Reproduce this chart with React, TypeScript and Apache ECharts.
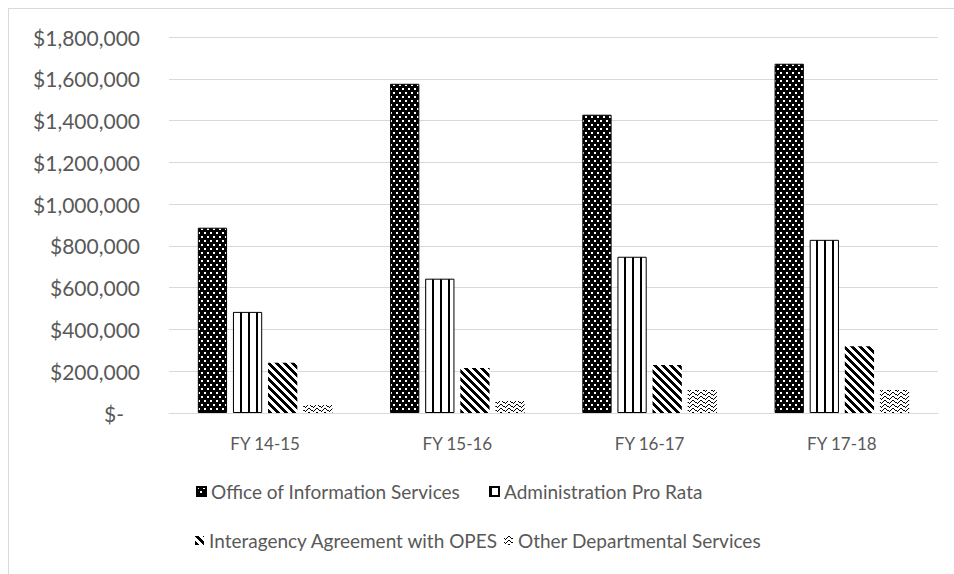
import React, { useEffect, useRef } from "react";
import * as echarts from "echarts";

const categories = ["FY 14-15", "FY 15-16", "FY 16-17", "FY 17-18"];
const seriesNames = [
  "Office of Information Services",
  "Administration Pro Rata",
  "Interagency Agreement with OPES",
  "Other Departmental Services",
];
const officeOfInfo = [887000, 1576000, 1428000, 1672000];
const adminProRata = [484000, 643000, 748000, 829000];
const interagency = [240000, 215000, 230000, 320000];
const otherDept = [38000, 57000, 110000, 110000];
const yTicks = [0, 200000, 400000, 600000, 800000, 1000000, 1200000, 1400000, 1600000, 1800000];

const FONT = "Lato, 'Open Sans', sans-serif";
const TEXT = "#595959";
const GRID = "#d9d9d9";

function makeTile(w: number, h: number, bg: string, fg: string, px: [number, number][]) {
  const c = document.createElement("canvas");
  c.width = w;
  c.height = h;
  const ctx = c.getContext("2d")!;
  ctx.fillStyle = bg;
  ctx.fillRect(0, 0, w, h);
  ctx.fillStyle = fg;
  px.forEach(([x, y]) => ctx.fillRect(x, y, 1, 1));
  return { image: c.toDataURL(), repeat: "repeat", imageWidth: w, imageHeight: h } as any;
}

function patterns() {
  const dots = makeTile(6, 8, "#000", "#fff", [
    [0, 0], [1, 0], [0, 1], [1, 1],
    [3, 4], [4, 4], [3, 5], [4, 5],
  ]);
  const vstripe = makeTile(8, 1, "#fff", "#000", [[0, 0], [1, 0]]);
  const diag: [number, number][] = [];
  for (let y = 0; y < 8; y++) for (let k = 0; k < 4; k++) diag.push([(y + k) % 8, y]);
  const diagonal = makeTile(8, 8, "#fff", "#000", diag);
  const wave = makeTile(8, 4, "#fff", "#000", [
    [4, 0], [5, 0], [3, 1], [6, 1], [0, 2], [2, 2], [7, 2], [1, 3],
  ]);
  return { dots, vstripe, diagonal, wave };
}

export default function App() {
  const ref = useRef<HTMLDivElement>(null);
  useEffect(() => {
    if (!ref.current) return;
    const chart = echarts.init(ref.current, undefined, { renderer: "svg" });
    const p = patterns();
    const values = [officeOfInfo, adminProRata, interagency, otherDept];
    const fills = [p.dots, p.vstripe, p.diagonal, p.wave];
    const borders = [1, 1, 0, 0];
    const legendPos = [
      { left: 196, top: 482 },
      { left: 489, top: 482 },
      { left: 195, top: 531 },
      { left: 504, top: 531 },
    ];
    chart.setOption({
      animation: false,
      grid: { left: 169, right: 16, top: 37, bottom: 161, containLabel: false },
      legend: seriesNames.map((n, i) => ({
        data: [n],
        left: legendPos[i].left,
        top: legendPos[i].top,
        padding: 0,
        itemWidth: 9,
        itemHeight: 9,
        icon: "rect",
        textStyle: { color: TEXT, fontFamily: FONT, fontSize: 19 },
      })),
      xAxis: {
        type: "category",
        data: categories,
        axisTick: { show: false },
        axisLine: { lineStyle: { color: GRID, width: 1 } },
        axisLabel: { color: TEXT, fontFamily: FONT, fontSize: 17, margin: 22 },
      },
      yAxis: {
        type: "value",
        min: yTicks[0],
        max: yTicks[yTicks.length - 1],
        interval: yTicks[1] - yTicks[0],
        axisLine: { show: false },
        axisTick: { show: false },
        splitLine: { lineStyle: { color: GRID, width: 1 } },
        axisLabel: {
          color: TEXT,
          fontFamily: FONT,
          fontSize: 21,
          margin: 29,
          formatter: (v: number) =>
            v === 0 ? "{z|$-}" : "$" + v.toLocaleString("en-US"),
          rich: { z: { color: TEXT, fontFamily: FONT, fontSize: 21, padding: [0, 16, 0, 0] } },
        },
      },
      series: values.map((d, i) => ({
        type: "bar",
        name: seriesNames[i],
        data: d,
        barGap: "20%",
        barCategoryGap: "30%",
        itemStyle: {
          color: fills[i],
          borderColor: "#000",
          borderWidth: borders[i],
        },
      })),
    });
    return () => chart.dispose();
  }, []);
  return (
    <>
      <div
        style={{
          position: "absolute",
          left: 8,
          top: 8,
          width: 946,
          height: 566,
          borderLeft: "1px solid #d9d9d9",
          borderTop: "1px solid #d9d9d9",
          boxSizing: "border-box",
        }}
      />
      <div ref={ref} style={{ position: "absolute", left: 0, top: 0, width: 954, height: 574 }} />
    </>
  );
}
